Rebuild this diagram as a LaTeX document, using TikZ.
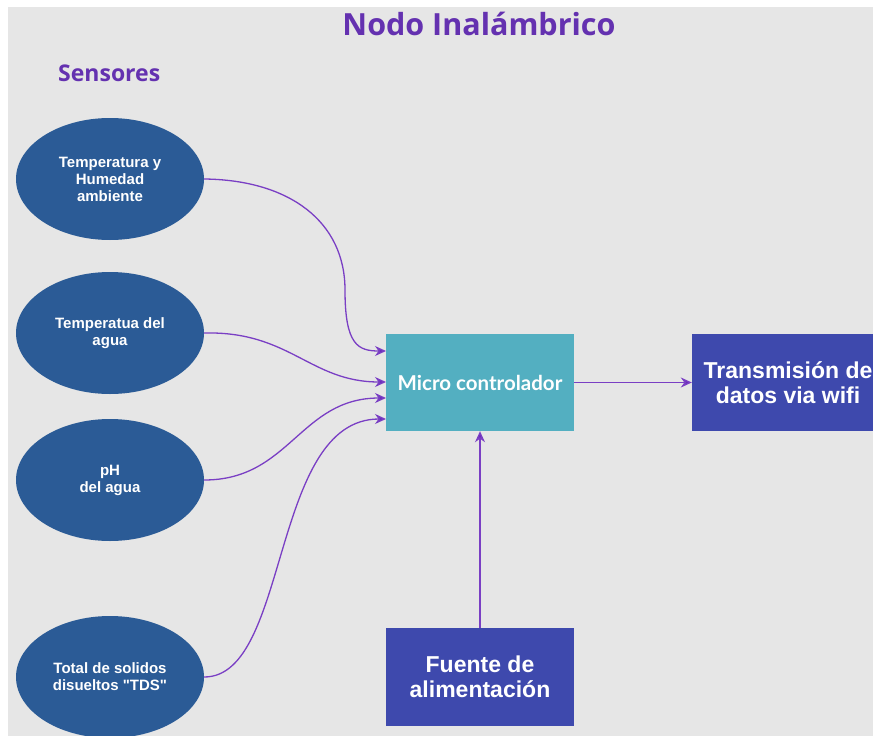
\documentclass[tikz,border=0pt]{standalone}
\usepackage{fontspec}
\setmainfont{Liberation Sans}
\newfontfamily\plainquotes{Liberation Sans}[Ligatures=TeXOff]
\newfontfamily\titlefont{Open Sans}
\newfontfamily\latofont{Lato}
\usetikzlibrary{arrows.meta,shapes.geometric}
\definecolor{bggray}{HTML}{E6E6E6}
\definecolor{ellblue}{HTML}{2B5B96}
\definecolor{tealbox}{HTML}{53AFC1}
\definecolor{indigobox}{HTML}{3E49AD}
\definecolor{arrowpurple}{HTML}{7A3FC4}
\definecolor{tippurple}{HTML}{6A2DB8}
\definecolor{titlepurple}{HTML}{6431B0}
\tikzset{
  sensor/.style={ellipse, fill=ellblue, minimum width=188pt, minimum height=122pt, inner sep=0pt,
    text=white, font=\fontsize{15}{17}\selectfont\bfseries, align=center},
  mcbox/.style={rectangle, fill=tealbox, minimum width=188pt, minimum height=97pt, inner sep=0pt,
    text=white, font=\latofont\fontsize{20.5}{23}\selectfont\bfseries, align=center},
  bluebox/.style={rectangle, fill=indigobox, inner sep=0pt,
    text=white, font=\fontsize{23}{25}\selectfont\bfseries, align=center},
  conn/.style={draw=arrowpurple, line width=1.3pt, -{Stealth[length=11pt,width=10pt,fill=tippurple]}},
}
\begin{document}
\begin{tikzpicture}[x=1pt,y=-1pt]
\useasboundingbox (0,0) rectangle (873,736);
\fill[white] (0,0) rectangle (873,736);
\fill[bggray] (8,7) rectangle (873,736);
\begin{scope}
\clip (0,0) rectangle (873,736);
\node[titlepurple, font=\titlefont\fontsize{30.5}{34}\selectfont\bfseries] (title) at (479,24) {Nodo Inalámbrico};
\node[titlepurple, font=\titlefont\fontsize{23}{26}\selectfont\bfseries, anchor=west, inner sep=0pt] (sens) at (58,73) {Sensores};

\node[sensor] (e1) at (110,179) {Temperatura y\\Humedad\\ambiente};
\node[sensor] (e2) at (110,333) {Temperatua del\\agua};
\node[sensor] (e3) at (110,480) {pH\\del agua};
\node[sensor, font=\plainquotes\fontsize{15}{17}\selectfont\bfseries] (e4) at (110,677) {Total de solidos\\disueltos "TDS"};

\node[mcbox] (mc) at (480,382.5) {Micro controlador};
\node[bluebox, minimum width=192pt, minimum height=97pt] (tx) at (788,382.5) {Transmisión de\\datos via wifi};
\node[bluebox, minimum width=188pt, minimum height=98pt] (pw) at (480,677) {Fuente de\\alimentación};

\coordinate (in1) at (386,351);
\coordinate (in2) at (386,382);
\coordinate (in3) at (386,398);
\coordinate (in4) at (386,419);

\draw[conn] (e1.east) .. controls (290,180) and (345,222) .. (345,290) .. controls (345,345) and (358,351) .. (in1);
\draw[conn] (e2.east) .. controls (290,331) and (310,382) .. (in2);
\draw[conn] (e3.east) .. controls (290,480) and (300,398) .. (in3);
\draw[conn] (e4.east) .. controls (290,677) and (270,419) .. (in4);
\draw[conn] (mc.east) -- (tx.west);
\draw[conn] (pw.north) -- (mc.south);
\end{scope}
\end{tikzpicture}
\end{document}
